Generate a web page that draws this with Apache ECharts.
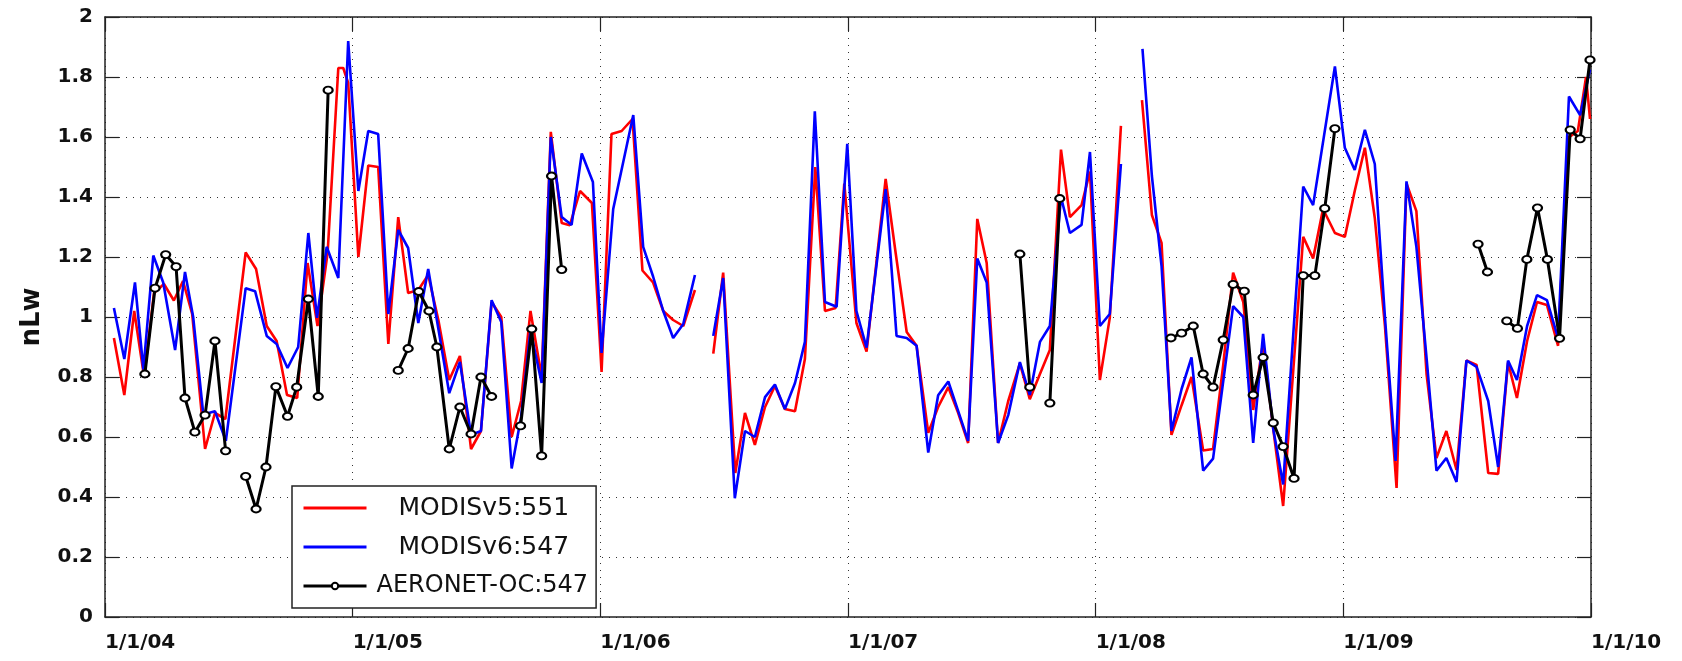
<!DOCTYPE html>
<html>
<head>
<meta charset="utf-8">
<script src="https://cdn.jsdelivr.net/npm/echarts@6/dist/echarts.min.js"></script>
<style>
  html, body { margin: 0; padding: 0; background: #fff; }
  #chart { width: 1682px; height: 661px; }
</style>
</head>
<body>
<div id="chart"></div>
<script>
// Tick labels
const xTickLabels = ['1/1/04', '1/1/05', '1/1/06', '1/1/07', '1/1/08', '1/1/09', '1/1/10'];
const yTickLabels = ['0', '0.2', '0.4', '0.6', '0.8', '1', '1.2', '1.4', '1.6', '1.8', '2'];

// Series names
const seriesNames = ['MODISv5:551', 'MODISv6:547', 'AERONET-OC:547'];

// [decimal year, nLw]; null marks a break in the record
const modisV5 = [
  [2004.036, 0.93], [2004.078, 0.74], [2004.118, 1.02], [2004.158, 0.80], [2004.198, 1.08],
  [2004.238, 1.11], [2004.278, 1.055], [2004.315, 1.12], [2004.352, 1.01], [2004.404, 0.56],
  [2004.444, 0.68], [2004.486, 0.66], [2004.568, 1.215], [2004.610, 1.16], [2004.653, 0.97],
  [2004.693, 0.92], [2004.735, 0.74], [2004.776, 0.73], [2004.818, 1.18], [2004.858, 0.97],
  [2004.899, 1.215], [2004.942, 1.83], [2004.962, 1.83], [2004.982, 1.78], [2005.023, 1.20],
  [2005.063, 1.505], [2005.103, 1.50], [2005.144, 0.91], [2005.184, 1.333], [2005.224, 1.08],
  [2005.265, 1.09], [2005.305, 1.14], [2005.346, 0.99], [2005.390, 0.79], [2005.433, 0.87],
  [2005.478, 0.56], [2005.518, 0.62], [2005.561, 1.05], [2005.600, 1.00], [2005.642, 0.60],
  [2005.680, 0.72], [2005.718, 1.02], [2005.763, 0.80], [2005.800, 1.617], [2005.844, 1.313],
  [2005.877, 1.306], [2005.918, 1.42], [2005.966, 1.38], [2006.005, 0.817], [2006.045, 1.61],
  [2006.086, 1.62], [2006.130, 1.66], [2006.170, 1.155], [2006.213, 1.115], [2006.254, 1.02],
  [2006.294, 0.99], [2006.335, 0.97], [2006.382, 1.09],
  [2006.420, null],
  [2006.456, 0.878], [2006.496, 1.148], [2006.545, 0.48], [2006.584, 0.68], [2006.624, 0.574],
  [2006.665, 0.70], [2006.705, 0.77], [2006.745, 0.693], [2006.786, 0.686], [2006.826, 0.86],
  [2006.868, 1.50], [2006.907, 1.02], [2006.950, 1.03], [2006.985, 1.445], [2007.034, 0.98],
  [2007.075, 0.885], [2007.152, 1.46], [2007.193, 1.21], [2007.237, 0.95], [2007.277, 0.904],
  [2007.324, 0.614], [2007.364, 0.70], [2007.405, 0.766], [2007.445, 0.68], [2007.485, 0.58],
  [2007.522, 1.327], [2007.560, 1.18], [2007.606, 0.58], [2007.647, 0.72], [2007.694, 0.845],
  [2007.734, 0.726], [2007.775, 0.81], [2007.815, 0.89], [2007.860, 1.558], [2007.896, 1.333],
  [2007.943, 1.373], [2007.977, 1.485], [2008.017, 0.79], [2008.057, 0.997], [2008.102, 1.637],
  [2008.145, null],
  [2008.187, 1.723], [2008.227, 1.34], [2008.266, 1.247], [2008.306, 0.607], [2008.347, 0.706],
  [2008.387, 0.80], [2008.434, 0.555], [2008.474, 0.56], [2008.515, 0.84], [2008.555, 1.148],
  [2008.596, 1.05], [2008.636, 0.69], [2008.676, 0.917], [2008.717, 0.627], [2008.757, 0.37],
  [2008.838, 1.267], [2008.878, 1.195], [2008.918, 1.36], [2008.966, 1.28], [2009.006, 1.267],
  [2009.046, 1.42], [2009.087, 1.564], [2009.127, 1.33], [2009.168, 0.97], [2009.215, 0.43],
  [2009.255, 1.445], [2009.295, 1.353], [2009.336, 0.81], [2009.376, 0.53], [2009.416, 0.62],
  [2009.457, 0.49], [2009.497, 0.855], [2009.538, 0.84], [2009.585, 0.48], [2009.625, 0.477],
  [2009.665, 0.848], [2009.701, 0.73], [2009.742, 0.92], [2009.782, 1.05], [2009.822, 1.04],
  [2009.867, 0.904], [2009.907, 1.597], [2009.947, 1.62], [2009.980, 1.80], [2009.996, 1.66]
];

const modisV6 = [
  [2004.036, 1.03], [2004.078, 0.86], [2004.121, 1.115], [2004.155, 0.825], [2004.195, 1.205],
  [2004.235, 1.115], [2004.283, 0.89], [2004.323, 1.15], [2004.356, 1.0], [2004.397, 0.675],
  [2004.444, 0.686], [2004.488, 0.587], [2004.568, 1.096], [2004.606, 1.086], [2004.653, 0.937],
  [2004.693, 0.91], [2004.737, 0.83], [2004.780, 0.90], [2004.821, 1.28], [2004.856, 0.997],
  [2004.895, 1.234], [2004.942, 1.13], [2004.982, 1.92], [2005.023, 1.42], [2005.063, 1.62],
  [2005.103, 1.61], [2005.144, 1.01], [2005.184, 1.29], [2005.224, 1.23], [2005.265, 0.98],
  [2005.305, 1.16], [2005.340, 0.99], [2005.390, 0.746], [2005.433, 0.85], [2005.478, 0.607],
  [2005.518, 0.62], [2005.561, 1.056], [2005.600, 0.983], [2005.642, 0.495], [2005.680, 0.667],
  [2005.718, 0.955], [2005.763, 0.78], [2005.800, 1.60], [2005.844, 1.333], [2005.884, 1.307],
  [2005.925, 1.545], [2005.970, 1.45], [2006.005, 0.88], [2006.052, 1.36], [2006.133, 1.673],
  [2006.173, 1.234], [2006.213, 1.135], [2006.254, 1.02], [2006.294, 0.93], [2006.335, 0.977],
  [2006.382, 1.14],
  [2006.420, null],
  [2006.456, 0.937], [2006.496, 1.13], [2006.543, 0.396], [2006.584, 0.62], [2006.624, 0.60],
  [2006.665, 0.733], [2006.705, 0.775], [2006.745, 0.693], [2006.786, 0.78], [2006.826, 0.917],
  [2006.866, 1.686], [2006.907, 1.05], [2006.954, 1.034], [2006.997, 1.577], [2007.034, 1.02],
  [2007.075, 0.898], [2007.152, 1.426], [2007.196, 0.937], [2007.237, 0.93], [2007.277, 0.904],
  [2007.324, 0.548], [2007.364, 0.739], [2007.405, 0.785], [2007.445, 0.686], [2007.485, 0.587],
  [2007.522, 1.195], [2007.560, 1.115], [2007.606, 0.58], [2007.647, 0.673], [2007.694, 0.85],
  [2007.734, 0.74], [2007.775, 0.917], [2007.815, 0.97], [2007.860, 1.40], [2007.896, 1.28],
  [2007.943, 1.307], [2007.977, 1.55], [2008.017, 0.97], [2008.057, 1.01], [2008.102, 1.51],
  [2008.145, null],
  [2008.189, 1.894], [2008.227, 1.47], [2008.266, 1.17], [2008.306, 0.62], [2008.347, 0.76],
  [2008.387, 0.865], [2008.434, 0.488], [2008.474, 0.528], [2008.555, 1.036], [2008.596, 1.0],
  [2008.636, 0.58], [2008.676, 0.944], [2008.717, 0.627], [2008.757, 0.442], [2008.838, 1.435],
  [2008.878, 1.373], [2008.966, 1.835], [2009.006, 1.564], [2009.046, 1.49], [2009.087, 1.624],
  [2009.127, 1.51], [2009.168, 1.0], [2009.211, 0.52], [2009.255, 1.452], [2009.295, 1.234],
  [2009.336, 0.864], [2009.376, 0.488], [2009.416, 0.53], [2009.457, 0.45], [2009.497, 0.855],
  [2009.538, 0.834], [2009.585, 0.72], [2009.625, 0.50], [2009.665, 0.855], [2009.701, 0.79],
  [2009.742, 0.97], [2009.782, 1.073], [2009.822, 1.056], [2009.867, 0.93], [2009.911, 1.735],
  [2009.956, 1.673], [2009.996, 1.825]
];

const aeronetOC = [
  [2004.161, 0.81], [2004.202, 1.096], [2004.245, 1.208], [2004.287, 1.168], [2004.323, 0.73],
  [2004.363, 0.616], [2004.404, 0.673], [2004.444, 0.92], [2004.487, 0.554],
  [2004.530, null],
  [2004.568, 0.469], [2004.610, 0.36], [2004.650, 0.50], [2004.690, 0.768], [2004.737, 0.669],
  [2004.774, 0.766], [2004.821, 1.06], [2004.861, 0.735], [2004.901, 1.756],
  [2005.000, null],
  [2005.184, 0.822], [2005.224, 0.895], [2005.267, 1.085], [2005.308, 1.02], [2005.340, 0.90],
  [2005.390, 0.56], [2005.433, 0.70], [2005.478, 0.61], [2005.518, 0.80], [2005.561, 0.735],
  [2005.620, null],
  [2005.678, 0.637], [2005.723, 0.96], [2005.763, 0.537], [2005.803, 1.47], [2005.844, 1.158],
  [2006.500, null],
  [2007.694, 1.21], [2007.734, 0.766],
  [2007.775, null],
  [2007.815, 0.713], [2007.855, 1.395],
  [2008.000, null],
  [2008.304, 0.93], [2008.347, 0.946], [2008.394, 0.97], [2008.434, 0.81], [2008.474, 0.766],
  [2008.515, 0.924], [2008.555, 1.109], [2008.600, 1.086], [2008.636, 0.74], [2008.676, 0.865],
  [2008.717, 0.647], [2008.757, 0.568], [2008.801, 0.462], [2008.838, 1.138], [2008.885, 1.138],
  [2008.925, 1.362], [2008.966, 1.628],
  [2009.200, null],
  [2009.544, 1.243], [2009.582, 1.15],
  [2009.620, null],
  [2009.660, 0.987], [2009.703, 0.962], [2009.741, 1.192], [2009.784, 1.364], [2009.824, 1.192],
  [2009.873, 0.929], [2009.916, 1.624], [2009.956, 1.594], [2009.996, 1.857]
];

const frameColor = '#222';
const labelFont = { fontFamily: 'DejaVu Sans', fontWeight: 'bold', fontSize: 20, color: '#111' };
const gridDots = { color: '#333', width: 1, type: [1, 6] };

function frameAxis(extra) {
  return Object.assign({
    type: 'value',
    axisLine: { show: true, onZero: false, lineStyle: { color: frameColor, width: 1.5 } },
    axisTick: { show: true, inside: true, length: 14, lineStyle: { color: frameColor, width: 1.2 } },
    axisLabel: { show: false },
    splitLine: { show: false }
  }, extra);
}

const chart = echarts.init(document.getElementById('chart'), null, { renderer: 'canvas' });

chart.setOption({
  animation: false,
  backgroundColor: '#fff',
  grid: { left: 105, right: 91, top: 17, bottom: 44, outerBoundsMode: 'none' },
  xAxis: [
    frameAxis({
      min: 2004, max: 2010, interval: 1, position: 'bottom',
      axisLabel: Object.assign({
        show: true, align: 'left', margin: 16,
        formatter: v => xTickLabels[Math.round(v - 2004)]
      }, labelFont),
      splitLine: { show: true, lineStyle: gridDots }
    }),
    frameAxis({ min: 2004, max: 2010, interval: 1, position: 'top' })
  ],
  yAxis: [
    frameAxis({
      min: 0, max: 2, interval: 0.2, position: 'left',
      name: 'nLw', nameLocation: 'middle', nameGap: 60,
      nameTextStyle: { fontFamily: 'DejaVu Sans', fontWeight: 'bold', fontSize: 26, color: '#111' },
      axisLabel: Object.assign({
        show: true, margin: 12,
        formatter: v => yTickLabels[Math.round(v / 0.2)]
      }, labelFont),
      splitLine: { show: true, lineStyle: gridDots }
    }),
    frameAxis({ min: 0, max: 2, interval: 0.2, position: 'right' })
  ],
  legend: {
    orient: 'vertical',
    left: 292, top: 486,
    padding: [9, 8, 9, 10],
    itemGap: 13,
    itemWidth: 63,
    itemHeight: 8,
    backgroundColor: '#fff',
    borderColor: frameColor,
    borderWidth: 1.5,
    borderRadius: 0,
    selectedMode: false,
    data: [
      { name: seriesNames[0], itemStyle: { opacity: 0 }, lineStyle: { width: 3, color: '#ff0000' } },
      { name: seriesNames[1], itemStyle: { opacity: 0 }, lineStyle: { width: 3, color: '#0000ff' } },
      { name: seriesNames[2], lineStyle: { width: 2.8, color: '#000' } }
    ],
    formatter: name => (name === seriesNames[2] ? '{a|' + name + '}' : '{m|' + name + '}'),
    textStyle: {
      fontFamily: 'DejaVu Sans', fontSize: 24, color: '#111', lineHeight: 26,
      rich: {
        a: { fontFamily: 'DejaVu Sans', fontSize: 24, color: '#111', padding: [0, 0, 0, 5] },
        m: { fontFamily: 'DejaVu Sans', fontSize: 25, color: '#111', padding: [0, 0, 0, 27] }
      }
    }
  },
  series: [
    {
      name: seriesNames[0], type: 'line', data: modisV5, z: 2,
      showSymbol: false, symbol: 'none', connectNulls: false,
      lineStyle: { color: '#ff0000', width: 2.6 }, itemStyle: { color: '#ff0000' }
    },
    {
      name: seriesNames[1], type: 'line', data: modisV6, z: 3,
      showSymbol: false, symbol: 'none', connectNulls: false,
      lineStyle: { color: '#0000ff', width: 2.6 }, itemStyle: { color: '#0000ff' }
    },
    {
      name: seriesNames[2], type: 'line', data: aeronetOC, z: 4,
      symbol: 'emptyCircle', symbolSize: [9, 7], showSymbol: true, connectNulls: false,
      lineStyle: { color: '#000', width: 3 },
      itemStyle: { color: '#000', borderColor: '#000', borderWidth: 1.6 }
    }
  ]
});
</script>
</body>
</html>
